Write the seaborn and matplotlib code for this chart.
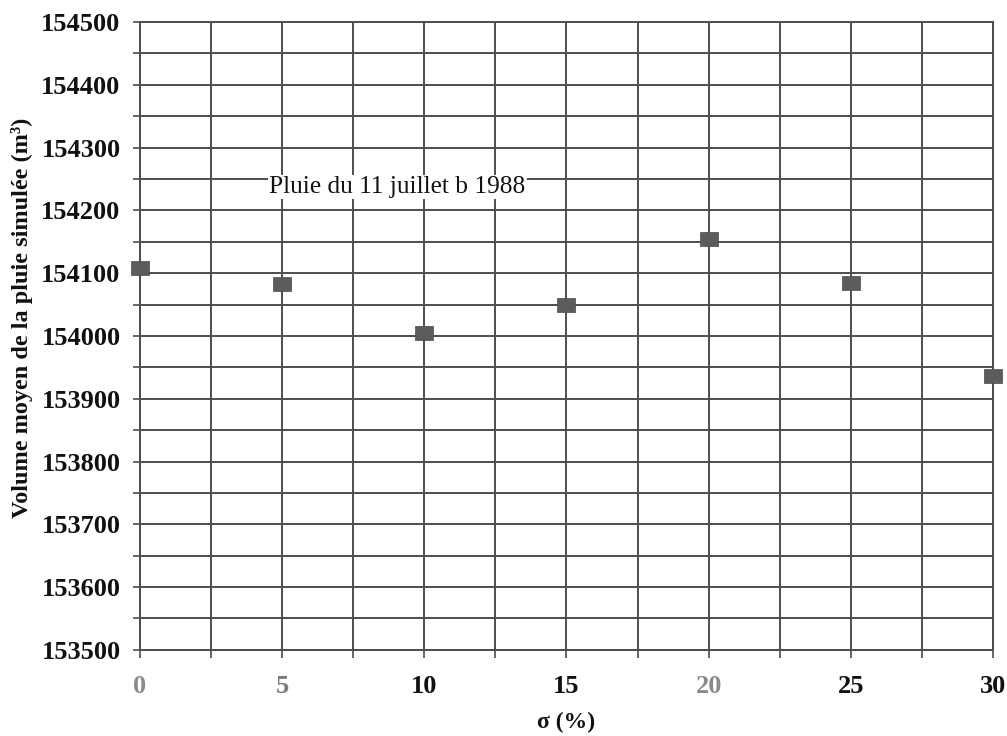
import matplotlib
matplotlib.use("Agg")
import matplotlib.pyplot as plt
import seaborn as sns
import numpy as np
import pandas as pd
from matplotlib.ticker import MultipleLocator

sigma = [0, 5, 10, 15, 20, 25, 30]
volume = [154109, 154083, 154005, 154049, 154154, 154085, 153936]
x_ticks = [0, 5, 10, 15, 20, 25, 30]
x_tick_colors = ["#8a8a8a", "#7a7a7a", "#111111", "#111111", "#8a8a8a", "#111111", "#111111"]
y_ticks = [153500, 153600, 153700, 153800, 153900, 154000, 154100, 154200, 154300, 154400, 154500]
annotation = "Pluie du 11 juillet b 1988"

df = pd.DataFrame({"sigma": sigma, "volume": volume})

sns.set_theme(style="white")
plt.rcParams["font.family"] = ["Liberation Serif", "DejaVu Serif"]

fig = plt.figure(figsize=(10.07, 7.36), dpi=100)
ax = fig.add_axes([0.139, 0.117, 0.847, 0.853])

rect = [(-1.3, -1), (1.3, -1), (1.3, 1), (-1.3, 1), (-1.3, -1)]
sns.scatterplot(data=df, x="sigma", y="volume", ax=ax, marker=rect, s=160,
                color="#5c5c5c", edgecolor="#4a4a4a", linewidth=0.5, zorder=5,
                clip_on=False, legend=False)

ax.set_xlim(0, 30)
ax.set_ylim(153500, 154500)
ax.set_xticks(x_ticks)
ax.set_yticks(y_ticks)
ax.xaxis.set_minor_locator(MultipleLocator(2.5))
ax.yaxis.set_minor_locator(MultipleLocator(50))
ax.grid(True, which="both", color="#4d4d4d", linewidth=1.4)
ax.set_axisbelow(True)
for s in ax.spines.values():
    s.set_color("#4d4d4d")
    s.set_linewidth(1.4)

ax.tick_params(axis="both", which="both", direction="out", color="#4d4d4d", width=1.2)
ax.tick_params(axis="y", which="both", length=5, pad=9, left=True)
ax.tick_params(axis="x", which="both", length=6, pad=12, bottom=True)
ax.set_xticklabels([str(v) for v in x_ticks], fontsize=19, fontweight="bold")
for lbl, c in zip(ax.get_xticklabels(), x_tick_colors):
    lbl.set_color(c)
ax.set_yticklabels([str(v) for v in y_ticks], fontsize=19, fontweight="bold", color="#111111")

ax.set_xlabel("σ (%)", fontsize=17, fontweight="bold", color="#111111", labelpad=10)
ax.set_ylabel("Volume moyen de la pluie simulée (m³)", fontsize=17.5, fontweight="bold",
              color="#111111")
ax.yaxis.set_label_coords(-0.125, 0.529)

ax.text(4.55, 154237, annotation, fontsize=18.3, color="#111111", va="center", ha="left",
        bbox=dict(facecolor="white", edgecolor="none", pad=1), zorder=4)

fig.savefig("out.png", dpi=100, facecolor="white")
